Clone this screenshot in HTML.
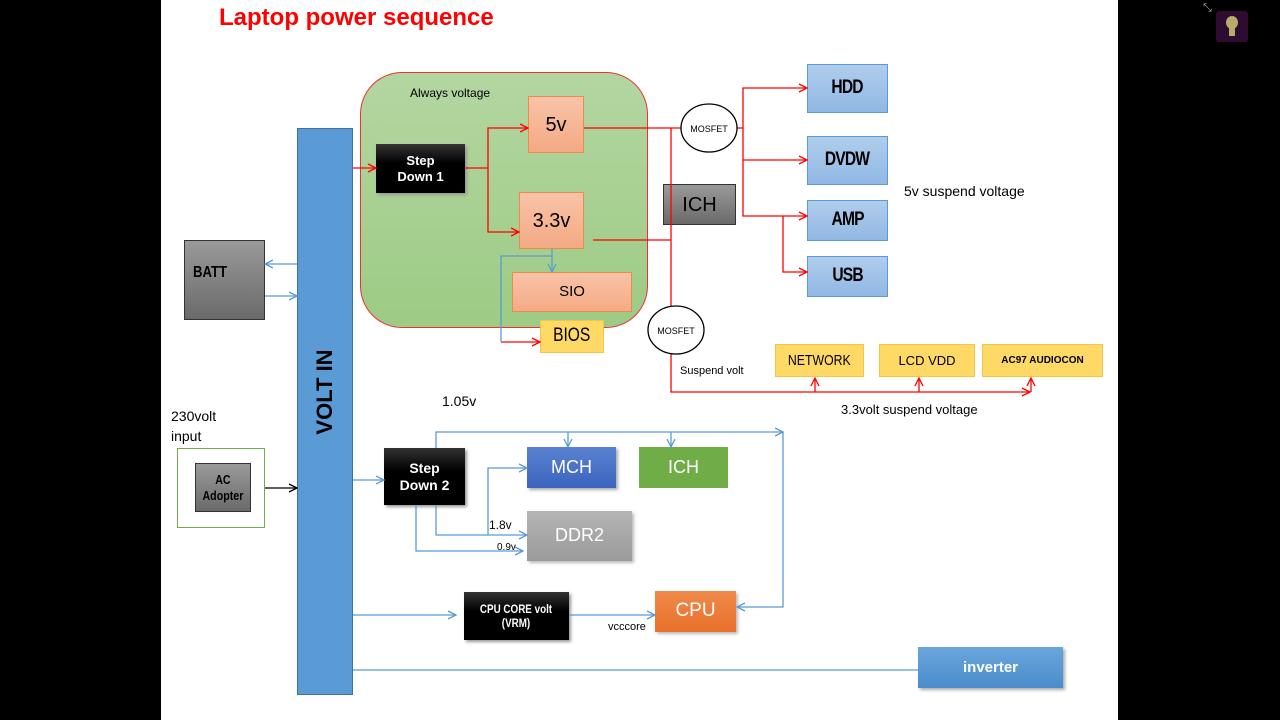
<!DOCTYPE html>
<html><head><meta charset="utf-8"><style>
body{margin:0;width:1280px;height:720px;background:#000;position:relative;overflow:hidden;font-family:"Liberation Sans",sans-serif}
.s{position:absolute;left:161px;top:0;width:957px;height:720px;background:#fff}
.b{position:absolute;display:flex;align-items:center;justify-content:center;text-align:center;box-sizing:border-box;line-height:1.2}
.t{position:absolute;white-space:nowrap;color:#000}
.blk{background:linear-gradient(#333,#000 40%);color:#fff;font-weight:bold;font-size:13px;box-shadow:2px 2px 3px #999}
.sal{background:linear-gradient(#f8c3a8,#f4aa84);border:1.5px solid #f08a4b;color:#000}
.blu{background:linear-gradient(#b0cdec,#91b8e4);border:1.5px solid #5b9bd5;color:#000;font-weight:bold;font-size:19px;letter-spacing:-1px}
.yel{background:#ffd966;border:1.5px solid #f6c342;color:#000}
.gry{background:linear-gradient(#9a9a9a,#6a6a6a);border:1.5px solid #333;color:#000;font-weight:bold}
.n{display:inline-block;transform:scaleX(0.82)}
</style></head><body>
<div class="s"></div>
<div class="t" style="left:219px;top:4px;color:#f00;font-weight:bold;font-size:24px">Laptop power sequence</div>
<div style="position:absolute;left:1216px;top:11px;width:32px;height:31px;background:#2e0b30;border-radius:3px"></div>
<div style="position:absolute;left:1226px;top:16px;width:12px;height:13px;background:#b8ac6a;border-radius:50%"></div>
<div style="position:absolute;left:1229px;top:28px;width:6px;height:8px;background:#b8ac6a"></div>
<div class="t" style="left:1203px;top:2px;color:#aaa;font-size:11px">⤡</div>

<div style="position:absolute;left:360px;top:72px;width:288px;height:256px;box-sizing:border-box;border:1.5px solid #f03030;border-radius:42px;background:linear-gradient(#b3d6a1,#9dcb84)"></div>
<div class="t" style="left:410px;top:86px;font-size:12px">Always voltage</div>

<div class="b" style="left:297px;top:128px;width:56px;height:567px;background:#5b9bd5;border:1px solid #41719c"></div>
<div class="t" style="left:325px;top:392px;transform:translate(-50%,-50%) rotate(-90deg);font-weight:bold;font-size:22px">VOLT IN</div>

<div class="b blk" style="left:376px;top:144px;width:89px;height:49px">Step<br>Down 1</div>
<div class="b sal" style="left:528px;top:96px;width:56px;height:57px;font-size:20px">5v</div>
<div class="b sal" style="left:519px;top:192px;width:65px;height:57px;font-size:20px">3.3v</div>
<div class="b sal" style="left:512px;top:272px;width:120px;height:40px;font-size:15px">SIO</div>
<div class="b yel" style="left:540px;top:320px;width:64px;height:33px;font-size:19px"><span class="n">BIOS</span></div>
<div class="b gry" style="left:184px;top:240px;width:81px;height:80px;justify-content:flex-start;padding-left:8px;padding-bottom:14px;font-size:16px"><span class="n" style="transform-origin:left">BATT</span></div>

<div class="b gry" style="left:663px;top:184px;width:73px;height:41px;font-weight:normal;font-size:20px">ICH</div>
<div class="b blu" style="left:807px;top:64px;width:81px;height:49px"><span class="n">HDD</span></div>
<div class="b blu" style="left:807px;top:136px;width:81px;height:49px"><span class="n">DVDW</span></div>
<div class="b blu" style="left:807px;top:200px;width:81px;height:41px"><span class="n">AMP</span></div>
<div class="b blu" style="left:807px;top:256px;width:81px;height:41px"><span class="n">USB</span></div>
<div class="t" style="left:904px;top:183px;font-size:14px">5v suspend voltage</div>

<div class="b yel" style="left:775px;top:344px;width:89px;height:33px;font-size:15px"><span class="n">NETWORK</span></div>
<div class="b yel" style="left:879px;top:344px;width:96px;height:33px;font-size:13px">LCD VDD</div>
<div class="b yel" style="left:982px;top:344px;width:121px;height:33px;font-size:10px;font-weight:bold">AC97 AUDIOCON</div>
<div class="t" style="left:680px;top:365px;font-size:11px">Suspend volt</div>
<div class="t" style="left:841px;top:402px;font-size:13px">3.3volt suspend voltage</div>

<div class="t" style="left:442px;top:393px;font-size:14px">1.05v</div>
<div class="t" style="left:171px;top:406px;font-size:14px;line-height:20px">230volt<br>input</div>
<div style="position:absolute;left:177px;top:448px;width:88px;height:80px;box-sizing:border-box;border:1.5px solid #70ad47"></div>
<div class="b gry" style="left:195px;top:463px;width:56px;height:49px;font-size:13px"><span class="n">AC<br>Adopter</span></div>

<div class="b blk" style="left:384px;top:448px;width:81px;height:57px;font-size:14px">Step<br>Down 2</div>
<div class="b" style="left:527px;top:447px;width:89px;height:41px;background:linear-gradient(#5a82d0,#3a64bf);color:#fff;font-size:18px;box-shadow:2px 2px 3px #aaa">MCH</div>
<div class="b" style="left:639px;top:447px;width:89px;height:41px;background:#70ad47;color:#fff;font-size:18px">ICH</div>
<div class="b" style="left:527px;top:511px;width:105px;height:50px;background:linear-gradient(#b5b5b5,#9a9a9a);color:#fff;font-size:18px;box-shadow:2px 2px 3px #bbb">DDR2</div>
<div class="t" style="left:489px;top:518px;font-size:12px">1.8v</div>
<div class="t" style="left:497px;top:542px;font-size:10px">0.9v</div>
<div class="b blk" style="left:464px;top:592px;width:105px;height:48px;font-size:12px"><span class="n">CPU CORE volt<br>(VRM)</span></div>
<div class="t" style="left:608px;top:621px;font-size:11px">vcccore</div>
<div class="b" style="left:655px;top:591px;width:81px;height:41px;background:linear-gradient(#f08a4a,#e8702a);color:#fff;font-size:19px;box-shadow:2px 2px 3px #bbb">CPU</div>
<div class="b" style="left:918px;top:647px;width:145px;height:41px;background:linear-gradient(#6aa6dc,#4a8ccc);color:#fff;font-weight:bold;font-size:15px;box-shadow:2px 2px 3px #aaa">inverter</div>

<svg style="position:absolute;left:0;top:0" width="1280" height="720">
<defs>
<marker id="r" markerWidth="10" markerHeight="10" refX="9" refY="5" orient="auto" markerUnits="userSpaceOnUse"><path d="M1,1 L9,5 L1,9" fill="none" stroke="#f00" stroke-width="1.3"/></marker>
<marker id="u" markerWidth="10" markerHeight="10" refX="9" refY="5" orient="auto" markerUnits="userSpaceOnUse"><path d="M1,1 L9,5 L1,9" fill="none" stroke="#5b9bd5" stroke-width="1.3"/></marker>
<marker id="k" markerWidth="10" markerHeight="10" refX="9" refY="5" orient="auto" markerUnits="userSpaceOnUse"><path d="M1,1 L9,5 L1,9" fill="none" stroke="#000" stroke-width="1.3"/></marker>
</defs>
<g fill="none" stroke="#f00" stroke-width="1.3">
<path d="M353,168 H376" marker-end="url(#r)"/>
<path d="M465,168 H488 V128 H528" marker-end="url(#r)"/>
<path d="M488,168 V232 H519" marker-end="url(#r)"/>
<path d="M584,128 H681"/>
<path d="M593,240 H671"/>
<path d="M671,128 V306"/>
<path d="M671,354 V392 H1030" marker-end="url(#r)"/>
<path d="M815,392 V378" marker-end="url(#r)"/>
<path d="M919,392 V378" marker-end="url(#r)"/>
<path d="M1031,392 V378" marker-end="url(#r)"/>
<path d="M737,128 H743 V88 H807" marker-end="url(#r)"/>
<path d="M743,128 V160 H807" marker-end="url(#r)"/>
<path d="M743,160 V216 H807" marker-end="url(#r)"/>
<path d="M783,216 V272 H807" marker-end="url(#r)"/>
<path d="M501,342 H540" marker-end="url(#r)"/>
</g>
<g fill="none" stroke="#5b9bd5" stroke-width="1.3">
<path d="M552,249 V272" marker-end="url(#u)"/>
<path d="M552,256 H501 V342"/>
<path d="M297,264 H265" marker-end="url(#u)"/>
<path d="M265,296 H297" marker-end="url(#u)"/>
<path d="M353,480 H384" marker-end="url(#u)"/>
<path d="M436,448 V432 H783" marker-end="url(#u)"/>
<path d="M568,432 V447" marker-end="url(#u)"/>
<path d="M671,432 V447" marker-end="url(#u)"/>
<path d="M783,432 V607 H737" marker-end="url(#u)"/>
<path d="M436,505 V535 H527" marker-end="url(#u)"/>
<path d="M488,535 V468 H527" marker-end="url(#u)"/>
<path d="M416,505 V551 H523" marker-end="url(#u)"/>
<path d="M353,615 H456" marker-end="url(#u)"/>
<path d="M569,615 H655" marker-end="url(#u)"/>
<path d="M353,670 H918"/>
</g>
<path d="M265,488 H297" stroke="#000" stroke-width="1.3" fill="none" marker-end="url(#k)"/>
<ellipse cx="709" cy="128" rx="28" ry="24" fill="#fff" stroke="#000" stroke-width="1.3"/>
<ellipse cx="676" cy="330" rx="28" ry="24" fill="#fff" stroke="#000" stroke-width="1.3"/>
<text x="709" y="132" font-size="9" text-anchor="middle" font-family="Liberation Sans">MOSFET</text>
<text x="676" y="334" font-size="9" text-anchor="middle" font-family="Liberation Sans">MOSFET</text>
</svg>
</body></html>
